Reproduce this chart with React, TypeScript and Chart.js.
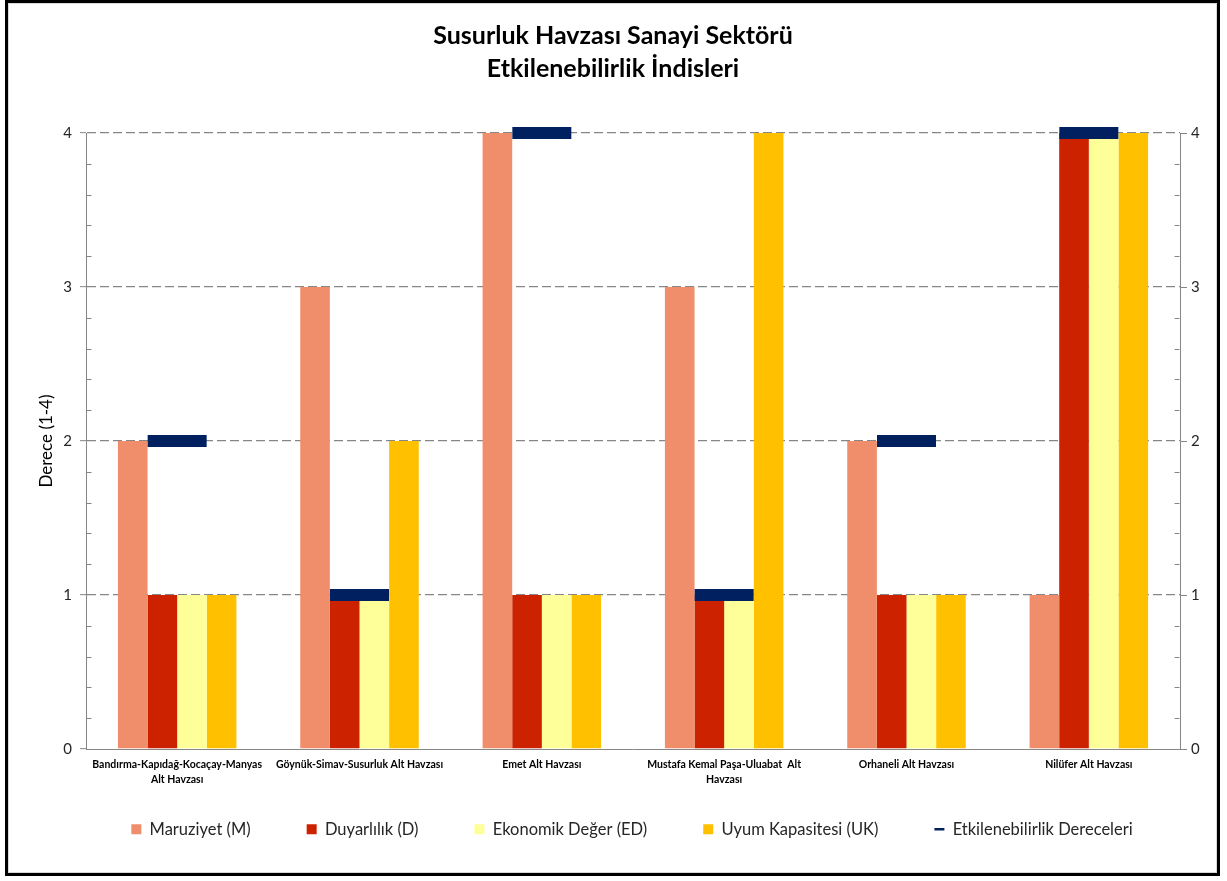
import React, { useEffect, useRef } from 'react';
import { Chart, registerables } from 'chart.js';

Chart.register(...registerables);

// Sub-basin names (multi-line where the label wraps)
const categories: (string | string[])[] = [
  ['Bandırma-Kapıdağ-Kocaçay-Manyas', 'Alt Havzası'],
  'Göynük-Simav-Susurluk Alt Havzası',
  'Emet Alt Havzası',
  ['Mustafa Kemal Paşa-Uluabat  Alt', 'Havzası'],
  'Orhaneli Alt Havzası',
  'Nilüfer Alt Havzası',
];

// Index components (degree 1-4)
const maruziyet = [2, 3, 4, 3, 2, 1];
const duyarlilik = [1, 1, 1, 1, 1, 4];
const ekonomikDeger = [1, 1, 1, 1, 1, 4];
const uyumKapasitesi = [1, 2, 1, 4, 1, 4];
// Resulting vulnerability degree, drawn as a dash per basin
const etkilenebilirlik = [2, 1, 4, 1, 2, 4];

const yMin = 0;
const yMax = 4;

const NAVY = '#002060';
const AXIS_GRAY = '#868686';
const FONT = 'Lato';

// Small inward minor ticks (every 0.2) on both value axes
const minorTicks = {
  id: 'minorTicks',
  afterDraw(chart: any) {
    const ctx = chart.ctx;
    ctx.save();
    ctx.strokeStyle = AXIS_GRAY;
    ctx.lineWidth = 1;
    ['y', 'y2'].forEach((id) => {
      const scale = chart.scales[id];
      if (!scale) return;
      const x0 = id === 'y' ? Math.round(chart.chartArea.left) + 0.5 : Math.round(chart.chartArea.right) - 0.5;
      const dir = id === 'y' ? 1 : -1;
      for (let i = 1; i < (yMax - yMin) * 5; i++) {
        if (i % 5 === 0) continue;
        const py = Math.round(scale.getPixelForValue(yMin + i / 5)) + 0.5;
        ctx.beginPath();
        ctx.moveTo(x0, py);
        ctx.lineTo(x0 + dir * 5, py);
        ctx.stroke();
      }
    });
    ctx.restore();
  },
};

// Pull the legend row up closer to the category labels, centre it under the plot,
// and nudge the title block slightly left
const blockOffsets = {
  id: 'blockOffsets',
  afterLayout(chart: any) {
    const lg = chart.legend;
    if (lg) {
      const dy = -24;
      const dx = 9;
      lg.top += dy;
      lg.bottom += dy;
      lg.left += dx;
      lg.right += dx;
    }
    const tb = chart.titleBlock;
    if (tb) {
      tb.left -= 10;
      tb.right -= 10;
    }
  },
};

export default function App() {
  const canvasRef = useRef<HTMLCanvasElement | null>(null);

  useEffect(() => {
    if (!canvasRef.current) return;
    Chart.defaults.font.family = FONT;

    const chart = new Chart(canvasRef.current, {
      type: 'bar',
      data: {
        labels: categories,
        datasets: [
          { label: 'Maruziyet (M)', data: maruziyet, backgroundColor: '#F08E6B', yAxisID: 'y' },
          { label: 'Duyarlılık (D)', data: duyarlilik, backgroundColor: '#CC2200', yAxisID: 'y' },
          { label: 'Ekonomik Değer (ED)', data: ekonomikDeger, backgroundColor: '#FFFF99', yAxisID: 'y' },
          { label: 'Uyum Kapasitesi (UK)', data: uyumKapasitesi, backgroundColor: '#FFC000', yAxisID: 'y' },
          {
            type: 'line',
            label: 'Etkilenebilirlik Dereceleri',
            data: etkilenebilirlik,
            yAxisID: 'y',
            showLine: false,
            order: -1,
            clip: false,
            pointStyle: 'line',
            pointRadius: 29.5,
            pointHoverRadius: 29.5,
            pointBorderWidth: 12,
            pointHoverBorderWidth: 12,
            pointBorderColor: NAVY,
            pointBackgroundColor: NAVY,
            borderColor: NAVY,
            backgroundColor: NAVY,
          } as any,
        ],
      },
      options: {
        responsive: false,
        animation: false,
        events: [],
        datasets: {
          bar: { barPercentage: 1, categoryPercentage: 0.65 },
        },
        layout: { padding: { top: 20, left: 36, right: 17, bottom: 9.5 } },
        plugins: {
          tooltip: { enabled: false },
          title: {
            display: true,
            text: ['Susurluk Havzası Sanayi Sektörü', 'Etkilenebilirlik İndisleri'],
            color: '#000',
            font: { family: FONT, size: 25, weight: 'bold', lineHeight: 1.3 },
            padding: { top: 0, bottom: 48 },
          },
          legend: {
            position: 'bottom',
            labels: {
              usePointStyle: true,
              pointStyleWidth: 10,
              boxHeight: 10,
              padding: 56,
              color: '#262626',
              font: { family: FONT, size: 16.5 },
              sort: (a: any, b: any) => a.datasetIndex - b.datasetIndex,
              generateLabels: (c: any) => {
                const items = (Chart.defaults.plugins.legend.labels as any).generateLabels(c);
                items.forEach((it: any) => {
                  const ds = c.data.datasets[it.datasetIndex];
                  if (ds.type === 'line') {
                    it.pointStyle = 'line';
                    it.lineWidth = 2.5;
                    it.strokeStyle = NAVY;
                    it.fillStyle = NAVY;
                  } else {
                    it.pointStyle = 'rect';
                    it.lineWidth = 0;
                  }
                });
                return items;
              },
            },
          },
        },
        scales: {
          x: {
            grid: { display: false, drawTicks: false },
            border: { display: true, color: AXIS_GRAY, width: 1 },
            ticks: {
              color: '#000',
              font: { family: FONT, size: 10.5, weight: 'bold', lineHeight: 1.35 },
              maxRotation: 0,
              autoSkip: false,
              padding: 9,
            },
            afterFit: (s: any) => { s.height = 40; },
          },
          y: {
            position: 'left',
            min: yMin,
            max: yMax,
            ticks: { stepSize: 1, color: '#262626', font: { family: FONT, size: 15 }, padding: 8 },
            grid: {
              color: (ctx: any) => (ctx.tick && ctx.tick.value === yMin ? 'rgba(0,0,0,0)' : AXIS_GRAY),
              lineWidth: 1.3,
              tickColor: AXIS_GRAY,
              tickLength: 6,
              tickWidth: 1,
              tickBorderDash: [],
            },
            border: { display: true, color: AXIS_GRAY, width: 1, dash: [9, 4] },
            title: {
              display: true,
              text: 'Derece (1-4)',
              color: '#000',
              font: { family: FONT, size: 17 },
              padding: 0,
            },
            afterFit: (s: any) => { s.width = 50; },
          },
          y2: {
            position: 'right',
            min: yMin,
            max: yMax,
            ticks: { stepSize: 1, color: '#262626', font: { family: FONT, size: 15 }, padding: 4 },
            grid: {
              drawOnChartArea: false,
              tickColor: AXIS_GRAY,
              tickLength: 7,
              tickWidth: 1,
              tickBorderDash: [],
            },
            border: { display: true, color: AXIS_GRAY, width: 1 },
            afterFit: (s: any) => { s.width = 30; },
          },
        },
      },
      plugins: [minorTicks, blockOffsets],
    } as any);

    return () => chart.destroy();
  }, []);

  return (
    <div style={{ position: 'absolute', left: 0, top: 0, width: 1227, height: 881, background: '#fff' }}>
      <canvas ref={canvasRef} width={1227} height={881} style={{ position: 'absolute', left: 0, top: 0 }} />
      <div
        style={{
          position: 'absolute',
          left: 5,
          top: 0,
          width: 1215,
          height: 876,
          boxSizing: 'border-box',
          border: '3px solid #000',
          boxShadow: 'inset 0 0 0 1px #d9d9d9',
          pointerEvents: 'none',
        }}
      />
    </div>
  );
}
